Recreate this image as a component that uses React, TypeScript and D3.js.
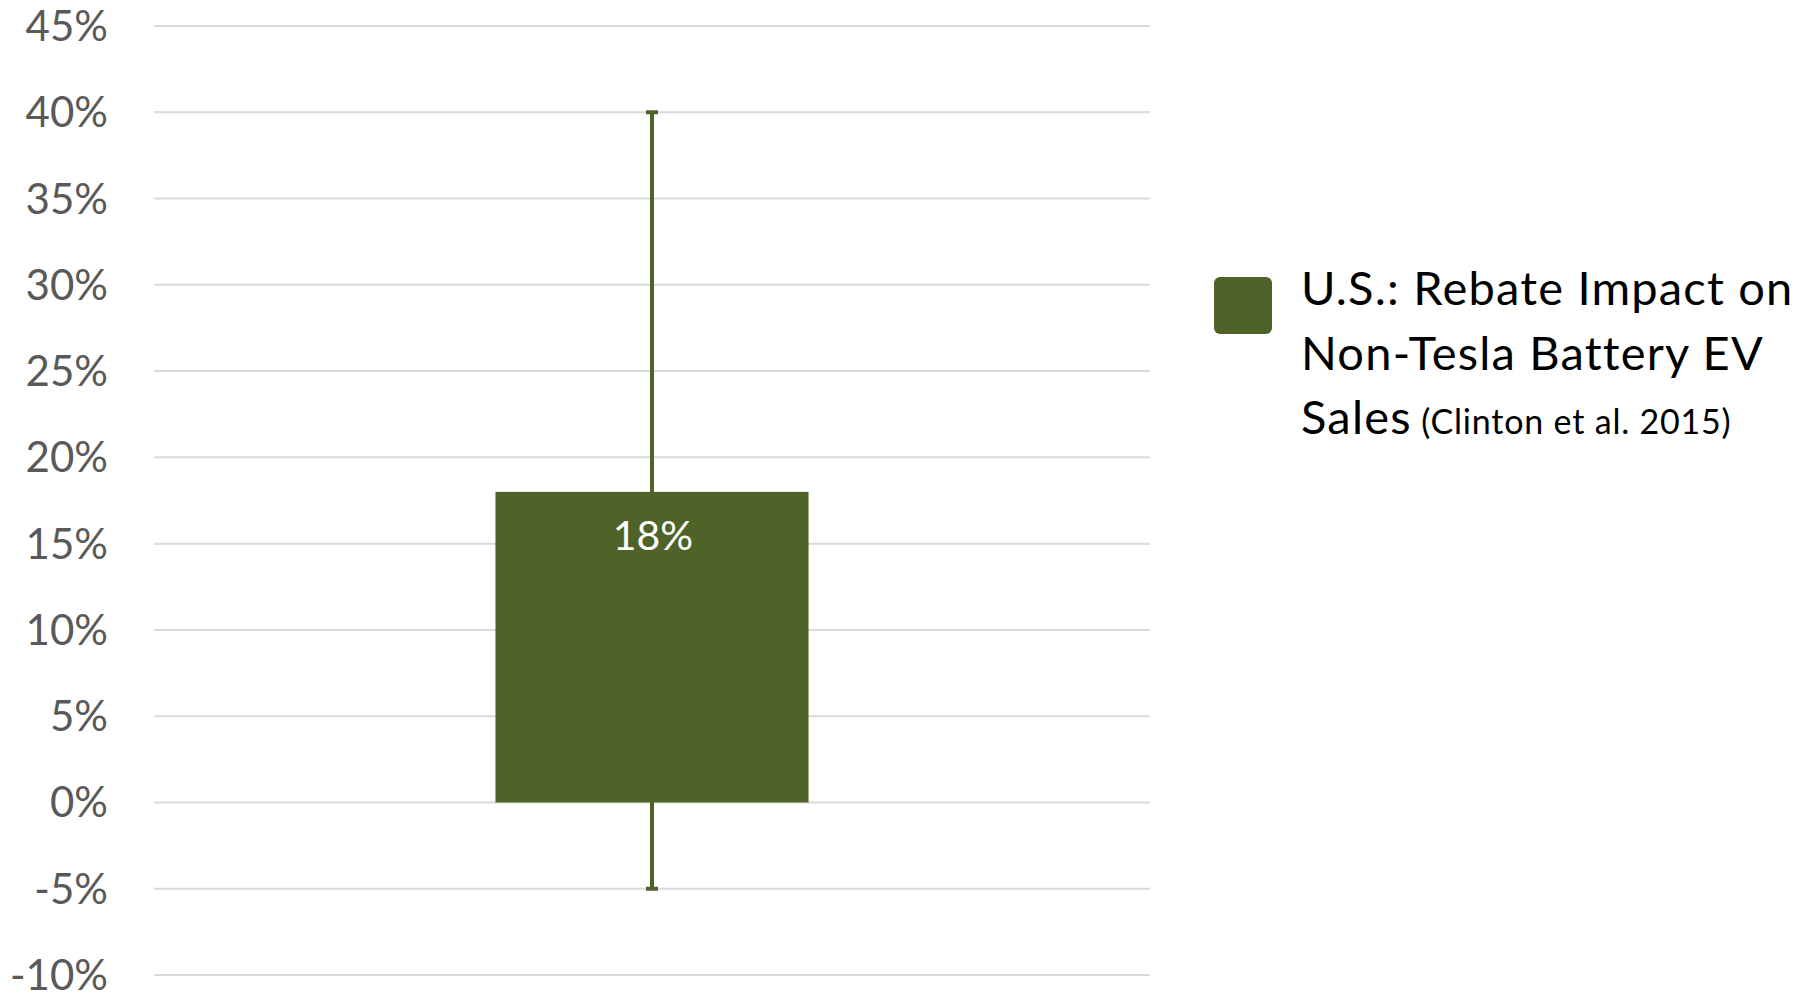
import React from "react";
import * as d3 from "d3";

const categories = ["U.S."];
const values = [18];
const errLow = [-5];
const errHigh = [40];
const yTicks = [-10, -5, 0, 5, 10, 15, 20, 25, 30, 35, 40, 45];
const legendLines = ["U.S.: Rebate Impact on", "Non-Tesla Battery EV", "Sales"];
const legendNote = "(Clinton et al. 2015)";

const W = 1814;
const H = 997;
const BAR = "#4F6228";
const FONT = "Lato, 'Open Sans', sans-serif";

export default function App() {
  const y = d3.scaleLinear().domain([-10, 45]).range([975, 26]);
  const x = d3
    .scaleBand<string>()
    .domain(categories)
    .range([154, 1150])
    .paddingInner(0.5217)
    .paddingOuter(0.5217);
  const bw = x.bandwidth();

  return (
    <svg
      width={W}
      height={H}
      style={{ position: "absolute", left: 0, top: 0, background: "#fff" }}
      fontFamily={FONT}
    >
      {yTicks.map((t) => (
        <g key={t}>
          <line x1={154} x2={1150} y1={y(t)} y2={y(t)} stroke="#d9d9d9" strokeWidth={2} />
          <text x={108} y={y(t) + 15} textAnchor="end" fontSize={42} fill="#595959">
            {`${t}%`}
          </text>
        </g>
      ))}
      {categories.map((c, i) => {
        const x0 = x(c) as number;
        const cx = x0 + bw / 2;
        const top = y(Math.max(values[i], 0));
        const bot = y(Math.min(values[i], 0));
        return (
          <g key={c}>
            <rect x={x0} y={top} width={bw} height={bot - top} fill={BAR} />
            <line x1={cx} x2={cx} y1={y(errHigh[i])} y2={y(errLow[i])} stroke={BAR} strokeWidth={4} />
            <line x1={cx - 6} x2={cx + 6} y1={y(errHigh[i])} y2={y(errHigh[i])} stroke={BAR} strokeWidth={4} />
            <line x1={cx - 6} x2={cx + 6} y1={y(errLow[i])} y2={y(errLow[i])} stroke={BAR} strokeWidth={4} />
            <text x={cx + 1} y={top + 58} textAnchor="middle" fontSize={41} fill="#ffffff">
              {`${values[i]}%`}
            </text>
          </g>
        );
      })}
      <rect x={1214} y={277} width={58} height={57} rx={6} ry={6} fill={BAR} />
      {legendLines.map((l, i) => (
        <text key={i} x={1301} y={305 + i * 64.7} fontSize={47} letterSpacing={1.2} fill="#000">
          {l}
          {i === legendLines.length - 1 ? (
            <tspan fontSize={34} letterSpacing={0.8}>{" " + legendNote}</tspan>
          ) : null}
        </text>
      ))}
    </svg>
  );
}
